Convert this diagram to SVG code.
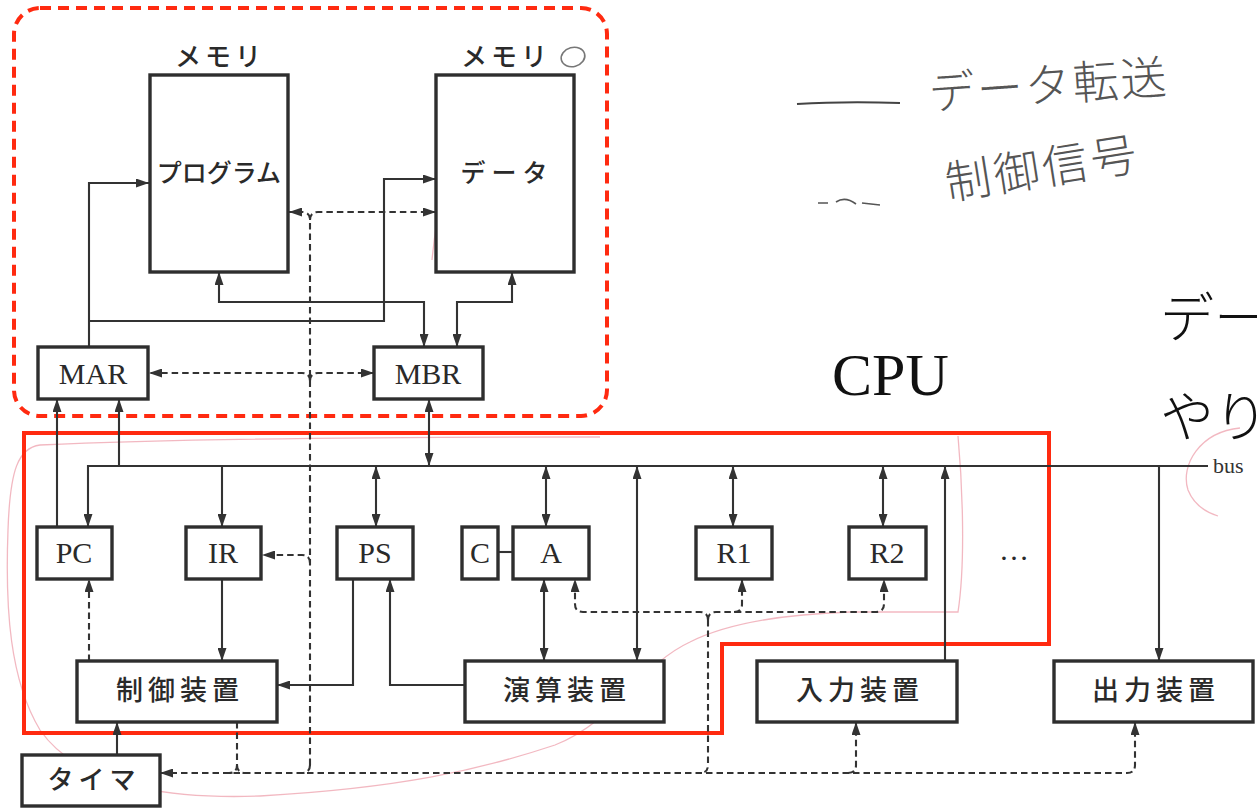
<svg xmlns="http://www.w3.org/2000/svg" width="1257" height="808" viewBox="0 0 1257 808">
<defs>
<marker id="ah" viewBox="0 0 13 9" refX="13" refY="4.5" markerWidth="13" markerHeight="9" markerUnits="userSpaceOnUse" orient="auto-start-reverse">
<path d="M0,0 L13,4.5 L0,9 z" fill="#333" stroke="none"/>
</marker>
</defs>
<style>
.box{fill:#fff;stroke:#2e2e2e;stroke-width:3.4}
.ln{fill:none;stroke:#333;stroke-width:2.1}
.dl{fill:none;stroke:#333;stroke-width:2.1;stroke-dasharray:6.5 4}
.en{font-family:"Liberation Serif","DejaVu Serif",serif;font-size:30px;fill:#2a2a2a;text-anchor:middle}
.jp{font-family:"Noto Sans CJK JP","Noto Sans",sans-serif;fill:#2a2a2a;text-anchor:middle;font-weight:500}
.hw{font-family:"Noto Sans CJK JP","Noto Sans",sans-serif;fill:#555;font-weight:300}
.pk{fill:none;stroke:#ec9aa6;stroke-width:1.3;opacity:0.7}
.red{fill:none;stroke:#ff2a10;stroke-width:4}
</style>
<rect width="1257" height="808" fill="#fff"/>

<!-- pink annotations -->
<g id="pink">
<path class="pk" d="M272,118 C262,160 250,200 232,250 M183,222 C185,210 188,200 190,190"/>
<path class="pk" d="M450,140 C445,180 438,200 432,260 M470,90 C468,120 460,150 455,170 M535,105 C530,140 528,160 520,210 M520,230 C522,240 535,232 534,224"/>
<path class="pk" d="M40,445 C150,440 300,437 600,437 M40,445 C18,448 10,470 8,530 C5,610 10,680 40,730 C75,780 150,800 260,796 C400,788 480,770 555,745 C615,722 640,665 690,642 C730,622 790,614 850,612 L958,612 C966,560 962,480 958,436"/>
<path class="pk" d="M1240,428 C1200,432 1180,465 1188,490 C1194,505 1205,512 1218,516"/>
<path class="pk" d="M705,545 C708,565 715,572 720,560 C724,570 730,570 733,560 C738,572 745,570 748,560 M858,545 C860,565 867,572 872,560 C876,570 882,570 885,560 C890,572 897,570 900,560"/>
<path class="pk" d="M128,718 C132,700 138,690 140,705 C142,715 150,700 156,692 M165,718 C170,700 176,690 178,705 M193,715 C196,700 203,690 206,705"/>
<path class="pk" d="M478,718 C482,700 488,690 490,705 C492,715 500,700 506,692 M515,718 C520,700 526,690 528,705 C530,716 540,700 546,692 M614,716 C618,700 622,690 620,680"/>
</g>

<!-- boundaries -->
<rect class="red" x="14" y="8" width="593" height="408" rx="26" style="stroke-dasharray:11 7"/>
<polygon class="red" points="24,433 1049,433 1049,644 722,644 722,733 24,733"/>

<!-- legend (handwritten) -->
<g id="legend">
<path d="M797,104 C830,102 870,102 900,103" fill="none" stroke="#444" stroke-width="2.2"/>
<text class="hw" x="930" y="110" font-size="46" letter-spacing="2" transform="rotate(-4 930 110)">データ転送</text>
<path d="M818,203 L828,203 M836,202 C842,198 848,198 856,204 M862,203 L880,205" fill="none" stroke="#555" stroke-width="1.6"/>
<text class="hw" x="948" y="200" font-size="46" letter-spacing="3" transform="rotate(-9 948 200)">制御信号</text>
</g>

<text x="832" y="395" font-family="Liberation Serif, serif" font-size="60" fill="#111">CPU</text>
<text x="1160" y="338" font-family="Noto Sans CJK JP, sans-serif" font-weight="300" font-size="54" fill="#111">デー</text>
<text x="1160" y="437" font-family="Noto Sans CJK JP, sans-serif" font-weight="300" font-size="54" fill="#111">やり</text>

<!-- connectors -->
<g id="connectors">
<path class="ln" d="M89,347 V183 H149" marker-end="url(#ah)"/>
<path class="ln" d="M89,321 H384 V179 H436" marker-end="url(#ah)"/>
<path class="ln" d="M219,272 V302 H424 V347" marker-start="url(#ah)" marker-end="url(#ah)"/>
<path class="ln" d="M512,272 V302 H457 V347" marker-start="url(#ah)" marker-end="url(#ah)"/>
<path class="ln" d="M429,399 V466" marker-start="url(#ah)" marker-end="url(#ah)"/>
<path class="ln" d="M57,527 V399" marker-end="url(#ah)"/>
<path class="ln" d="M119,466 V399" marker-end="url(#ah)"/>
<path class="ln" d="M1208,466 H88 V527" marker-end="url(#ah)"/>
<path class="ln" d="M222,466 V527" marker-end="url(#ah)"/>
<path class="ln" d="M222,579 V661" marker-end="url(#ah)"/>
<path class="ln" d="M376,466 V527" marker-start="url(#ah)" marker-end="url(#ah)"/>
<path class="ln" d="M353,579 V685 H277" marker-end="url(#ah)"/>
<path class="ln" d="M465,685 H390 V579" marker-end="url(#ah)"/>
<path class="ln" d="M498,552 H513"/>
<path class="ln" d="M546,466 V527" marker-start="url(#ah)" marker-end="url(#ah)"/>
<path class="ln" d="M544,579 V661" marker-start="url(#ah)" marker-end="url(#ah)"/>
<path class="ln" d="M637,466 V661" marker-start="url(#ah)" marker-end="url(#ah)"/>
<path class="ln" d="M733,466 V527" marker-start="url(#ah)" marker-end="url(#ah)"/>
<path class="ln" d="M883,466 V527" marker-start="url(#ah)" marker-end="url(#ah)"/>
<path class="ln" d="M945,661 V466" marker-end="url(#ah)"/>
<path class="ln" d="M1159,466 V661" marker-end="url(#ah)"/>
<path class="ln" d="M117,755 V722" marker-end="url(#ah)"/>

<path class="dl" d="M310,765 V220 Q310,212 302,212 H289" marker-end="url(#ah)"/>
<path class="dl" d="M310,220 Q310,212 318,212 H436" marker-end="url(#ah)"/>
<path class="dl" d="M310,381 Q310,373 302,373 H149" marker-end="url(#ah)"/>
<path class="dl" d="M310,381 Q310,373 318,373 H374" marker-end="url(#ah)"/>
<path class="dl" d="M310,563 Q310,555 302,555 H262" marker-end="url(#ah)"/>
<path class="dl" d="M310,765 Q310,773 302,773"/>
<path class="dl" d="M89,661 V579" marker-end="url(#ah)"/>
<path class="dl" d="M237,722 V765 Q237,773 229,773 M237,765 Q237,773 245,773"/>
<path class="dl" d="M160,773 H1127 Q1135,773 1135,765 V722" marker-start="url(#ah)" marker-end="url(#ah)"/>
<path class="dl" d="M848,773 Q856,773 856,765 V722" marker-end="url(#ah)"/>
<path class="dl" d="M708,620 V765 Q708,773 700,773"/>
<path class="dl" d="M708,620 Q708,612 700,612 H583 Q575,612 575,604 V579" marker-end="url(#ah)"/>
<path class="dl" d="M708,620 Q708,612 716,612 H876 Q884,612 884,604 V579" marker-end="url(#ah)"/>
<path class="dl" d="M734,612 Q742,612 742,604 V579" marker-end="url(#ah)"/>
</g>

<!-- nodes -->
<g id="mem-program">
<rect class="box" x="150" y="75" width="138" height="197"/>
<text class="jp" x="219" y="182" font-size="25">プログラム</text>
<text class="jp" x="220" y="66" font-size="26" letter-spacing="4">メモリ</text>
</g>
<g id="mem-data">
<rect class="box" x="436" y="75" width="138" height="197"/>
<text class="jp" x="507" y="182" font-size="25" letter-spacing="6">データ</text>
<text class="jp" x="506" y="66" font-size="26" letter-spacing="4">メモリ</text>
<ellipse cx="573" cy="57" rx="12" ry="9.5" fill="none" stroke="#777" stroke-width="1.6" transform="rotate(-15 573 57)"/>
</g>
<g id="mar"><rect class="box" x="38" y="347" width="110" height="52"/><text class="en" x="93" y="384">MAR</text></g>
<g id="mbr"><rect class="box" x="374" y="347" width="109" height="52"/><text class="en" x="428" y="384">MBR</text></g>
<g id="pc"><rect class="box" x="37" y="527" width="75" height="52"/><text class="en" x="74" y="563">PC</text></g>
<g id="ir"><rect class="box" x="186" y="527" width="75" height="52"/><text class="en" x="223" y="563">IR</text></g>
<g id="ps"><rect class="box" x="337" y="527" width="76" height="52"/><text class="en" x="375" y="563">PS</text></g>
<g id="c"><rect class="box" x="462" y="527" width="36" height="52"/><text class="en" x="480" y="563">C</text></g>
<g id="a"><rect class="box" x="513" y="527" width="76" height="52"/><text class="en" x="551" y="563">A</text></g>
<g id="r1"><rect class="box" x="696" y="527" width="76" height="52"/><text class="en" x="734" y="563">R1</text></g>
<g id="r2"><rect class="box" x="849" y="527" width="77" height="52"/><text class="en" x="887" y="563">R2</text></g>
<g id="more"><text class="en" x="1014" y="560">…</text></g>
<g id="control"><rect class="box" x="77" y="661" width="200" height="61"/><text class="jp" x="180" y="700" font-size="27" letter-spacing="5">制御装置</text></g>
<g id="alu"><rect class="box" x="465" y="661" width="199" height="61"/><text class="jp" x="567" y="700" font-size="27" letter-spacing="5">演算装置</text></g>
<g id="input"><rect class="box" x="757" y="661" width="200" height="61"/><text class="jp" x="860" y="700" font-size="27" letter-spacing="5">入力装置</text></g>
<g id="output"><rect class="box" x="1054" y="661" width="199" height="61"/><text class="jp" x="1156" y="700" font-size="27" letter-spacing="5">出力装置</text></g>
<g id="timer"><rect class="box" x="22" y="755" width="138" height="51"/><text class="jp" x="94" y="789" font-size="26" letter-spacing="5">タイマ</text></g>
<text x="1213" y="473" font-family="Liberation Serif, serif" font-size="22" fill="#333">bus</text>
</svg>
